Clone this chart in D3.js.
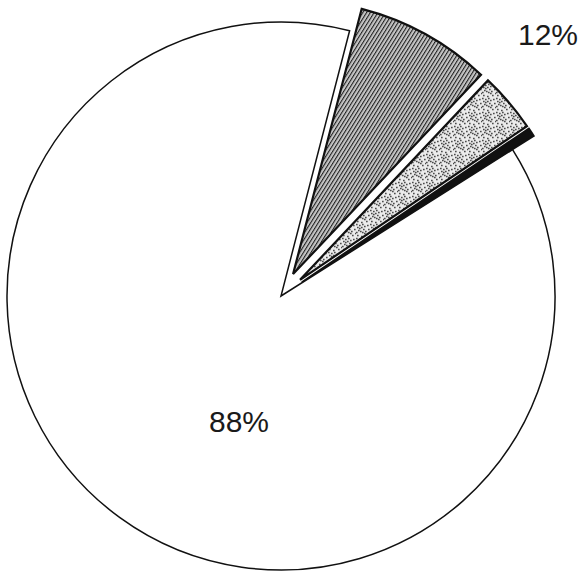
<!DOCTYPE html>
<html>
<head>
<meta charset="utf-8">
<script src="https://cdn.jsdelivr.net/npm/d3@7"></script>
<style>
  html, body { margin: 0; padding: 0; background: #fff; overflow: hidden; }
  svg { display: block; }
</style>
</head>
<body>
<svg id="chart" width="578" height="576"></svg>
<script>
// ---- data ----
const categories = ["Hatched", "Stippled", "Black", "Remainder"];
const values = [8.0, 3.5, 0.5, 88.0];
const exploded = [true, true, true, false];
const labels = ["12%", "88%"];

// ---- layout ----
const W = 578, H = 576;
const cx = 281, cy = 296, R = 274;
const explodeDist = 25;
const startDeg = 14.5;

const svg = d3.select("#chart");
const defs = svg.append("defs");

// hatch pattern
const hatch = defs.append("pattern")
  .attr("id", "hatch").attr("patternUnits", "userSpaceOnUse")
  .attr("width", 3.2).attr("height", 3.2)
  .attr("patternTransform", "rotate(32)");
hatch.append("rect").attr("width", 3.2).attr("height", 3.2).attr("fill", "#c4c4c4");
hatch.append("line").attr("x1", 0).attr("y1", 0).attr("x2", 0).attr("y2", 3.2)
  .attr("stroke", "#1e1e1e").attr("stroke-width", 2.1);

// stipple pattern (fixed tile)
const dots = [[0,0],[3,1],[6,0],[1,3],[5,3],[8,2],[2,6],[7,5],[4,7],[0,8],[6,8],[9,7],[3,4],[8,9],[11,1],[12,5],[10,11],[1,11],[5,12],[13,9]];
const stip = defs.append("pattern")
  .attr("id", "stip").attr("patternUnits", "userSpaceOnUse")
  .attr("width", 14).attr("height", 14);
stip.append("rect").attr("width", 14).attr("height", 14).attr("fill", "#ececec");
stip.selectAll("rect.d").data(dots).enter().append("rect").attr("class", "d")
  .attr("x", d => d[0]).attr("y", d => d[1]).attr("width", 1.6).attr("height", 1.3)
  .attr("fill", "#2a2a2a");

const fills = ["url(#hatch)", "url(#stip)", "#111", "#fff"];

const pie = d3.pie().sort(null).value(d => d)
  .startAngle(startDeg * Math.PI / 180)
  .endAngle(startDeg * Math.PI / 180 + 2 * Math.PI);
const arcs = pie(values);
const arc = d3.arc().innerRadius(0).outerRadius(R);

const g = svg.append("g").attr("transform", `translate(${cx},${cy})`);

g.selectAll("path.slice").data(arcs).enter().append("path")
  .attr("class", "slice")
  .attr("d", arc)
  .attr("fill", (d, i) => fills[i])
  .attr("stroke", "#111")
  .attr("stroke-width", (d, i) => exploded[i] ? 2.2 : 1.5)
  .attr("stroke-linejoin", "miter")
  .attr("transform", (d, i) => {
    if (!exploded[i]) return null;
    const a = (d.startAngle + d.endAngle) / 2;
    return `translate(${explodeDist * Math.sin(a)},${-explodeDist * Math.cos(a)})`;
  });

// labels
svg.append("text").attr("x", 518).attr("y", 45)
  .attr("font-family", "Liberation Sans, Arial, sans-serif")
  .attr("font-size", 30).attr("fill", "#1a1a1a").text(labels[0]);
svg.append("text").attr("x", 209).attr("y", 432)
  .attr("font-family", "Liberation Sans, Arial, sans-serif")
  .attr("font-size", 30).attr("fill", "#1a1a1a").text(labels[1]);
</script>
</body>
</html>
